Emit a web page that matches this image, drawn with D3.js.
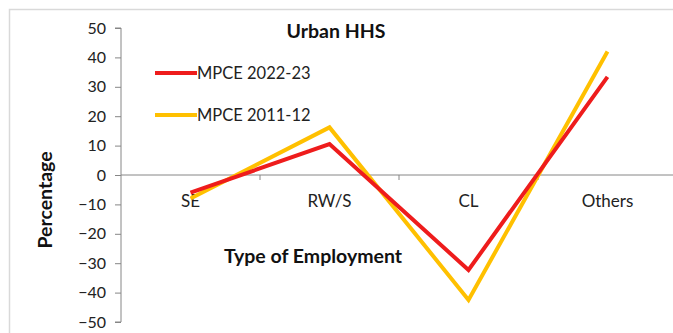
<!DOCTYPE html>
<html>
<head>
<meta charset="utf-8">
<script src="https://cdn.jsdelivr.net/npm/d3@7/dist/d3.min.js"></script>
<style>
  html, body { margin: 0; padding: 0; background: #fff; }
  svg { display: block; font-family: Lato, "Open Sans", sans-serif; }
</style>
</head>
<body>
<svg id="chart" width="673" height="333"></svg>
<script>
// Employment categories and the change (%) for each MPCE round
const categories = ["SE", "RW/S", "CL", "Others"];
const mpce2022 = [-6, 10.5, -32.3, 33.4];
const mpce2011 = [-8, 16.2, -42.5, 42];
const yTicks = [50, 40, 30, 20, 10, 0, -10, -20, -30, -40, -50];
const seriesNames = ["MPCE 2022-23", "MPCE 2011-12"];
const seriesColors = ["#ee1c1c", "#ffc000"];

const svg = d3.select("#chart");
const plot = { left: 121, right: 677, top: 28, bottom: 322 };

// chart area frame
svg.append("rect")
  .attr("x", 9.5).attr("y", 9.5)
  .attr("width", 700).attr("height", 400)
  .attr("fill", "none").attr("stroke", "#d9d9d9").attr("stroke-width", 1.5);

const x = d3.scaleBand().domain(categories).range([plot.left, plot.right]);
const y = d3.scaleLinear().domain([-50, 50]).range([plot.bottom, plot.top]);

// value axis
const yAxis = d3.axisLeft(y).tickValues(yTicks).tickSize(6).tickPadding(9);
const gy = svg.append("g").attr("transform", `translate(${plot.left},0)`).call(yAxis);
gy.select(".domain").attr("stroke", "#868686").attr("d", `M-6,${y(50)}H0V${y(-50)}H-6`);
gy.selectAll(".tick line").attr("stroke", "#868686");
gy.selectAll(".tick text").attr("fill", "#222").style("font-size", "16px")
  .style("font-family", "Lato, sans-serif");

// category axis crossing at zero
const gx = svg.append("g").attr("transform", `translate(0,${y(0)})`);
gx.append("line")
  .attr("x1", plot.left).attr("x2", plot.right)
  .attr("stroke", "#868686").attr("stroke-width", 1);
gx.selectAll(".bound")
  .data(categories.slice(1))
  .join("line")
  .attr("x1", d => x(d)).attr("x2", d => x(d))
  .attr("y1", 0).attr("y2", 5)
  .attr("stroke", "#868686");
gx.selectAll(".cat")
  .data(categories)
  .join("text")
  .attr("x", d => x(d) + x.bandwidth() / 2)
  .attr("y", 32)
  .attr("text-anchor", "middle")
  .attr("fill", "#222")
  .style("font-size", "17px")
  .text(d => d);

// titles
svg.append("text")
  .attr("x", 336).attr("y", 38)
  .attr("text-anchor", "middle")
  .style("font-size", "19.5px").style("font-weight", "bold")
  .attr("fill", "#111")
  .text("Urban HHS");

svg.append("text")
  .attr("x", 313).attr("y", 263)
  .attr("text-anchor", "middle")
  .style("font-size", "19.5px").style("font-weight", "bold")
  .attr("fill", "#111")
  .text("Type of Employment");

svg.append("text")
  .attr("transform", "translate(52,200) rotate(-90)")
  .attr("text-anchor", "middle")
  .style("font-size", "19.5px").style("font-weight", "bold")
  .attr("fill", "#111")
  .text("Percentage");

// series lines
const line = d3.line()
  .x((d, i) => x(categories[i]) + x.bandwidth() / 2)
  .y(d => y(d));

const series = [mpce2011, mpce2022];
const colors = [seriesColors[1], seriesColors[0]];
svg.selectAll(".series")
  .data(series)
  .join("path")
  .attr("d", line)
  .attr("fill", "none")
  .attr("stroke", (d, i) => colors[i])
  .attr("stroke-width", 4)
  .attr("stroke-linejoin", "miter");

// legend
const legend = svg.append("g");
seriesNames.forEach((name, i) => {
  const ly = 73 + i * 42;
  legend.append("line")
    .attr("x1", 155).attr("x2", 197)
    .attr("y1", ly).attr("y2", ly)
    .attr("stroke", seriesColors[i]).attr("stroke-width", 4);
  legend.append("text")
    .attr("x", 197).attr("y", ly + 6)
    .attr("fill", "#222")
    .style("font-size", "16.5px")
    .text(name);
});
</script>
</body>
</html>
